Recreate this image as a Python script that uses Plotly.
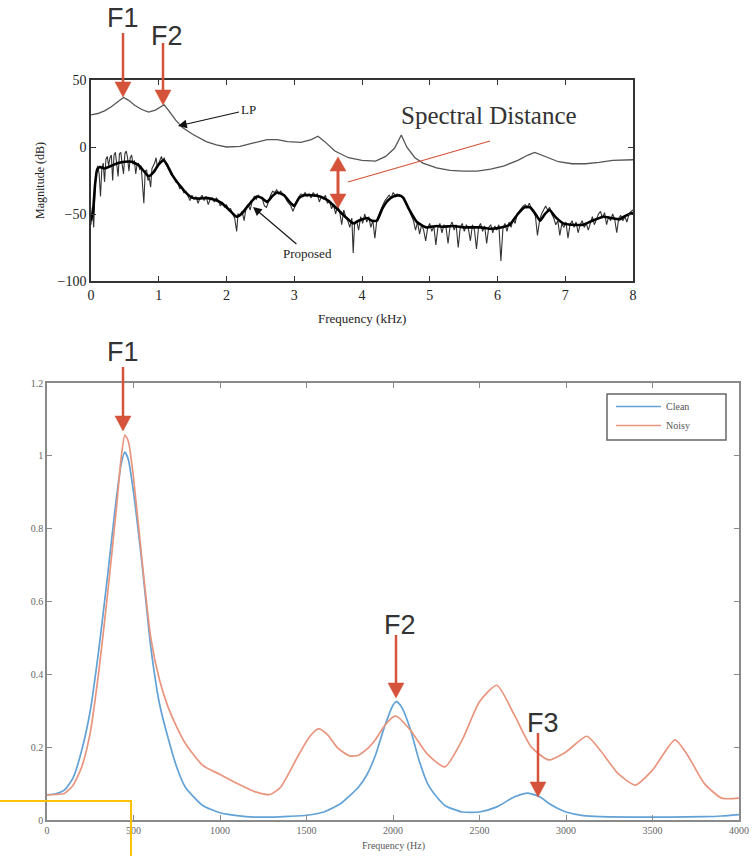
import plotly.graph_objects as go

# ---------------- data: top panel (Frequency in kHz, Magnitude in dB) ----------------
lp_khz = [0.00, 0.10, 0.20, 0.30, 0.40, 0.48, 0.55, 0.65, 0.75, 0.85, 0.95, 1.03, 1.08, 1.15,
          1.25, 1.35, 1.50, 1.70, 1.85, 2.00, 2.20, 2.40, 2.60, 2.75, 2.90, 3.10, 3.25, 3.35,
          3.45, 3.60, 3.80, 4.00, 4.20, 4.35, 4.48, 4.58, 4.66, 4.78, 4.90, 5.10, 5.30, 5.50,
          5.70, 5.90, 6.10, 6.30, 6.45, 6.55, 6.70, 6.90, 7.10, 7.30, 7.50, 7.70, 8.00]
lp_db = [24, 25, 27, 30, 34, 37, 35, 31, 28, 26, 27.5, 30, 31.5, 27,
         20, 14.5, 9.5, 4, 1.5, 0, 0.5, 3, 5.5, 5.5, 4, 3.5, 5.5, 8,
         4, -3, -8, -10, -10.5, -7, -1, 9, 0, -8, -12, -15.5, -17.5, -18,
         -18, -16.5, -14, -10, -6, -4, -7, -11, -12.5, -12.5, -11.5, -10, -9.5]

raw_khz = [0.00, 0.02, 0.04, 0.06, 0.08, 0.10, 0.12, 0.14, 0.16, 0.18, 0.20, 0.22, 0.24, 0.26,
           0.28, 0.30, 0.32, 0.34, 0.36, 0.38, 0.40, 0.42, 0.44, 0.46, 0.48, 0.50, 0.52, 0.54,
           0.56, 0.58, 0.60, 0.62, 0.64, 0.66, 0.68, 0.70, 0.72, 0.74, 0.76, 0.78, 0.80, 0.82,
           0.84, 0.86, 0.88, 0.90, 0.92, 0.94, 0.96, 0.98, 1.00, 1.02, 1.04, 1.06, 1.08, 1.10,
           1.13, 1.16, 1.19, 1.22, 1.25, 1.28, 1.31, 1.34, 1.37, 1.40, 1.43, 1.46, 1.49, 1.52,
           1.55, 1.58, 1.61, 1.64, 1.67, 1.70, 1.73, 1.76, 1.79, 1.82, 1.85, 1.88, 1.91, 1.94,
           1.97, 2.00, 2.03, 2.06, 2.09, 2.12, 2.15, 2.17, 2.20, 2.23, 2.26, 2.29, 2.32, 2.35,
           2.38, 2.41, 2.44, 2.47, 2.50, 2.53, 2.56, 2.59, 2.62, 2.65, 2.68, 2.71, 2.74, 2.77,
           2.80, 2.83, 2.86, 2.89, 2.92, 2.95, 2.98, 3.01, 3.04, 3.07, 3.10, 3.13, 3.16, 3.19,
           3.22, 3.25, 3.28, 3.31, 3.34, 3.37, 3.40, 3.43, 3.46, 3.49, 3.52, 3.55, 3.58, 3.61,
           3.64, 3.67, 3.70, 3.73, 3.76, 3.79, 3.82, 3.85, 3.87, 3.89, 3.92, 3.95, 3.98, 4.01,
           4.04, 4.07, 4.10, 4.13, 4.16, 4.19, 4.22, 4.25, 4.28, 4.31, 4.34, 4.37, 4.40, 4.43,
           4.46, 4.49, 4.52, 4.55, 4.58, 4.61, 4.64, 4.67, 4.70, 4.73, 4.76, 4.79, 4.82, 4.85,
           4.88, 4.91, 4.94, 4.97, 5.00, 5.03, 5.06, 5.09, 5.12, 5.15, 5.18, 5.21, 5.24, 5.27,
           5.30, 5.33, 5.36, 5.39, 5.42, 5.45, 5.48, 5.51, 5.54, 5.57, 5.60, 5.63, 5.66, 5.69,
           5.72, 5.75, 5.78, 5.81, 5.84, 5.87, 5.90, 5.93, 5.96, 5.99, 6.02, 6.05, 6.08, 6.11,
           6.14, 6.17, 6.20, 6.23, 6.26, 6.29, 6.32, 6.35, 6.38, 6.41, 6.44, 6.47, 6.50, 6.53,
           6.56, 6.59, 6.62, 6.65, 6.68, 6.71, 6.74, 6.77, 6.80, 6.83, 6.86, 6.89, 6.92, 6.95,
           6.98, 7.01, 7.04, 7.07, 7.10, 7.13, 7.16, 7.19, 7.22, 7.25, 7.28, 7.31, 7.34, 7.37,
           7.40, 7.43, 7.46, 7.49, 7.52, 7.55, 7.58, 7.61, 7.64, 7.67, 7.70, 7.73, 7.76, 7.79,
           7.82, 7.85, 7.88, 7.91, 7.94, 7.97, 8.00]
raw_db = [-58, -45, -60, -30, -18, -14, -20, -37, -16, -12, -26, -9, -7, -14,
          -8, -6, -25, -6, -4, -12, -22, -5, -4, -13, -20, -5, -3, -8,
          -18, -8, -6, -13, -10, -20, -13, -12, -17, -14, -28, -42, -18, -17,
          -25, -23, -30, -16, -14, -12, -8, -15, -12, -9, -7, -11, -8, -12,
          -15, -18, -21, -22, -26, -27, -31, -30, -34, -33, -37, -40, -36, -39,
          -37, -42, -38, -36, -40, -37, -43, -39, -38, -41, -38, -40, -44, -41,
          -45, -43, -47, -46, -50, -53, -63, -50, -51, -48, -55, -45, -43, -47,
          -40, -37, -39, -36, -38, -39, -44, -45, -41, -36, -33, -34, -32, -35,
          -33, -35, -37, -40, -42, -44, -48, -44, -40, -37, -35, -36, -34, -37,
          -35, -38, -34, -36, -35, -41, -37, -39, -36, -42, -40, -46, -43, -50,
          -44, -48, -58, -47, -52, -55, -60, -53, -79, -58, -55, -62, -52, -57,
          -50, -56, -52, -60, -55, -68, -54, -50, -46, -43, -40, -38, -36, -38,
          -34, -36, -35, -37, -36, -38, -42, -45, -48, -52, -55, -62, -56, -65,
          -58, -62, -70, -60, -57, -63, -59, -73, -60, -57, -64, -58, -60, -72,
          -59, -56, -62, -58, -75, -60, -57, -63, -58, -61, -70, -58, -62, -76,
          -60, -57, -63, -59, -72, -60, -58, -64, -59, -62, -58, -85, -61, -57,
          -63, -56, -60, -54, -57, -50, -48, -46, -44, -43, -45, -42, -46, -48,
          -52, -66, -55, -50, -47, -44, -47, -45, -50, -53, -58, -55, -66, -57,
          -60, -56, -68, -58, -55, -60, -56, -64, -58, -55, -60, -57, -62, -56,
          -52, -58, -54, -50, -48, -53, -49, -58, -52, -55, -50, -54, -64, -53,
          -51, -55, -52, -56, -50, -48, -47]

smooth_khz = [0.00, 0.03, 0.06, 0.09, 0.13, 0.20, 0.30, 0.40, 0.50, 0.60, 0.70, 0.78, 0.85, 0.92,
              1.00, 1.07, 1.12, 1.20, 1.30, 1.40, 1.50, 1.60, 1.70, 1.80, 1.90, 2.00, 2.08, 2.15,
              2.22, 2.30, 2.38, 2.45, 2.52, 2.60, 2.67, 2.75, 2.85, 2.95, 3.00, 3.07, 3.15, 3.25,
              3.38, 3.50, 3.63, 3.75, 3.87, 3.95, 4.07, 4.15, 4.22, 4.30, 4.38, 4.46, 4.55, 4.61,
              4.70, 4.81, 4.95, 5.10, 5.20, 5.35, 5.50, 5.60, 5.75, 5.89, 6.05, 6.18, 6.30, 6.40,
              6.48, 6.56, 6.63, 6.70, 6.77, 6.85, 6.97, 7.10, 7.26, 7.40, 7.56, 7.68, 7.80, 7.90, 8.00]
smooth_db = [-55, -48, -28, -17, -15, -16, -14, -12, -11, -11, -13.5, -18, -22, -19,
             -13, -10, -13, -21, -28, -34, -38, -38.5, -38, -39, -41, -45, -49, -52,
             -50, -45, -40, -37, -38, -41, -37, -34, -36, -42, -44, -38, -36, -36,
             -37, -40, -46, -52, -57, -55, -53, -55, -55, -46, -40, -37, -36, -38,
             -47, -56, -60, -59, -59.5, -59, -60, -60, -60, -61, -60, -58, -50, -45,
             -45, -50, -55, -50, -47, -52, -57, -58, -58, -55, -52, -53, -54, -51, -49]

# ---------------- data: bottom panel (Frequency in Hz, normalised magnitude) ----------------
clean_hz = [0, 50, 100, 150, 200, 250, 300, 350, 400, 430, 450, 470, 500, 550, 600, 650, 700,
            750, 800, 900, 1000, 1100, 1200, 1300, 1400, 1500, 1600, 1700, 1800, 1850, 1900,
            1950, 2000, 2020, 2050, 2100, 2150, 2200, 2250, 2300, 2400, 2500, 2600, 2700, 2780,
            2850, 2900, 2950, 3000, 3100, 3200, 3400, 3600, 3800, 3900, 4000]
clean_val = [0.069, 0.072, 0.082, 0.115, 0.19, 0.30, 0.47, 0.67, 0.88, 0.98, 1.01, 0.99, 0.90,
             0.70, 0.475, 0.32, 0.225, 0.145, 0.09, 0.04, 0.02, 0.012, 0.008, 0.008, 0.01, 0.013,
             0.022, 0.046, 0.09, 0.125, 0.18, 0.255, 0.315, 0.325, 0.31, 0.25, 0.165, 0.10, 0.065,
             0.04, 0.022, 0.022, 0.036, 0.063, 0.074, 0.063, 0.046, 0.032, 0.022, 0.012, 0.009,
             0.008, 0.008, 0.009, 0.011, 0.015]

noisy_hz = [0, 50, 100, 150, 200, 250, 300, 350, 400, 430, 450, 470, 500, 550, 600, 650, 700,
            750, 800, 900, 1000, 1100, 1200, 1290, 1350, 1400, 1450, 1520, 1570, 1620, 1680,
            1750, 1800, 1850, 1900, 1950, 2000, 2020, 2100, 2200, 2300, 2400, 2500, 2600, 2700,
            2800, 2900, 3000, 3120, 3200, 3300, 3400, 3500, 3630, 3700, 3800, 3900, 4000]
noisy_val = [0.069, 0.07, 0.073, 0.095, 0.145, 0.24, 0.41, 0.62, 0.85, 1.0, 1.057, 1.04, 0.94,
             0.71, 0.50, 0.385, 0.31, 0.255, 0.21, 0.15, 0.125, 0.10, 0.078, 0.07, 0.09, 0.13,
             0.175, 0.23, 0.25, 0.235, 0.198, 0.176, 0.178, 0.195, 0.222, 0.258, 0.283, 0.285,
             0.247, 0.18, 0.146, 0.22, 0.325, 0.37, 0.29, 0.20, 0.165, 0.187, 0.23, 0.19, 0.128,
             0.096, 0.137, 0.22, 0.18, 0.10, 0.06, 0.06]

top_xticks = [0, 1, 2, 3, 4, 5, 6, 7, 8]
top_yticks = [-100, -50, 0, 50]
bot_xticks = [0, 500, 1000, 1500, 2000, 2500, 3000, 3500, 4000]
bot_yticks = [0, 0.2, 0.4, 0.6, 0.8, 1, 1.2]
bot_ytick_text = ["0", "0.2", "0.4", "0.6", "0.8", "1", "1.2"]

# ---------------- layout helpers (pixel -> paper) ----------------
W, H = 755, 856


def px(x):
    return x / W


def py(y):
    return 1 - y / H


SERIF = "Liberation Serif, Times New Roman, serif"
SANS = "Liberation Sans, Arial, sans-serif"
RED = "#D4533A"
BLUE = "#62A2D6"
ORANGE = "#E9957E"

fig = go.Figure()

fig.add_trace(go.Scatter(x=lp_khz, y=lp_db, mode="lines", line=dict(color="#555555", width=1.3),
                         xaxis="x", yaxis="y", showlegend=False, name="LP"))
fig.add_trace(go.Scatter(x=raw_khz, y=raw_db, mode="lines", line=dict(color="#333333", width=1.1),
                         xaxis="x", yaxis="y", showlegend=False, name="Proposed (raw)"))
fig.add_trace(go.Scatter(x=smooth_khz, y=smooth_db, mode="lines",
                         line=dict(color="#000000", width=2.6, shape="spline", smoothing=0.4),
                         xaxis="x", yaxis="y", showlegend=False, name="Proposed"))

fig.add_trace(go.Scatter(x=clean_hz, y=clean_val, mode="lines", name="Clean",
                         line=dict(color=BLUE, width=1.7, shape="spline", smoothing=0.6),
                         xaxis="x2", yaxis="y2"))
fig.add_trace(go.Scatter(x=noisy_hz, y=noisy_val, mode="lines", name="Noisy",
                         line=dict(color=ORANGE, width=1.7, shape="spline", smoothing=0.6),
                         xaxis="x2", yaxis="y2"))

top_axis_common = dict(showline=True, linecolor="#333333", linewidth=1.5, mirror="ticks",
                       ticks="inside", ticklen=5, tickcolor="#333333", showgrid=False,
                       zeroline=False, automargin=False,
                       tickfont=dict(family=SERIF, size=14, color="#222222"))
bot_axis_common = dict(showline=True, linecolor="#8a8a8a", linewidth=1.6, mirror="ticks",
                       ticks="inside", ticklen=5, tickcolor="#8a8a8a", showgrid=False,
                       zeroline=False, automargin=False,
                       tickfont=dict(family=SERIF, size=10, color="#666666"))

fig.update_layout(
    width=W, height=H, margin=dict(l=0, r=0, t=0, b=0, autoexpand=False),
    paper_bgcolor="white", plot_bgcolor="white",
    xaxis=dict(domain=[px(91), px(633)], anchor="y", range=[0, 8], tickvals=top_xticks,
               **top_axis_common),
    yaxis=dict(domain=[py(281), py(80)], anchor="x", range=[-100, 50], tickvals=top_yticks,
               **top_axis_common),
    xaxis2=dict(domain=[px(47), px(739)], anchor="y2", range=[0, 4000], tickvals=bot_xticks,
                **bot_axis_common),
    yaxis2=dict(domain=[py(820), py(383)], anchor="x2", range=[0, 1.2], tickvals=bot_yticks,
                ticktext=bot_ytick_text, **bot_axis_common),
    legend=dict(x=px(611), y=py(392), xanchor="left", yanchor="top",
                borderwidth=0, bgcolor="rgba(0,0,0,0)",
                font=dict(family=SERIF, size=10, color="#555555"),
                itemwidth=45, tracegroupgap=0),
    showlegend=True,
)

annotations = []
shapes = []


def label(text, cx, cy, size, family, color, angle=0):
    annotations.append(dict(text=text, x=px(cx), y=py(cy), xref="paper", yref="paper",
                            xanchor="center", yanchor="middle", showarrow=False,
                            textangle=angle, font=dict(family=family, size=size, color=color)))


# axis titles
label("Frequency (kHz)", 362, 318, 13, SERIF, "#222222")
label("Magnitude (dB)", 40, 181, 12, SERIF, "#222222", angle=-90)
label("Frequency (Hz)", 393, 846, 10, SERIF, "#555555")

# big formant labels
for txt, cx, cy in [("F1", 123, 18), ("F2", 167, 36), ("F1", 123, 352), ("F2", 400, 625),
                    ("F3", 543, 723)]:
    label(txt, cx, cy, 27, SANS, "#333333")

# Spectral Distance label
label("Spectral Distance", 489, 115, 25, SERIF, "#333333")

# LP and Proposed labels with black arrows
annotations.append(dict(text="LP", x=px(178), y=py(126), xref="paper", yref="paper",
                        ax=70, ay=-16, showarrow=True, arrowhead=2, arrowsize=1.6,
                        arrowwidth=1.1, arrowcolor="#111111",
                        font=dict(family=SERIF, size=13, color="#222222")))
annotations.append(dict(text="Proposed", x=px(253), y=py(207), xref="paper", yref="paper",
                        ax=54, ay=46, showarrow=True, arrowhead=2, arrowsize=1.6,
                        arrowwidth=1.1, arrowcolor="#111111",
                        font=dict(family=SERIF, size=13, color="#222222")))


def red_down_arrow(x, y_start, y_tip, head=15, half=8):
    shapes.append(dict(type="line", xref="paper", yref="paper", x0=px(x), x1=px(x),
                       y0=py(y_start), y1=py(y_tip - head + 1),
                       line=dict(color=RED, width=2.5)))
    shapes.append(dict(type="path", xref="paper", yref="paper",
                       path=f"M {px(x - half)} {py(y_tip - head)} L {px(x + half)} {py(y_tip - head)} "
                            f"L {px(x)} {py(y_tip)} Z",
                       fillcolor=RED, line=dict(color=RED, width=0.5)))


red_down_arrow(123, 33, 97)
red_down_arrow(163, 43, 105)
red_down_arrow(123, 367, 431)
red_down_arrow(396, 635, 698)
red_down_arrow(538, 733, 797)

# double-headed spectral distance arrow
dx, dtop, dbot, hh, hw = 338, 157, 208, 14, 8
shapes.append(dict(type="line", xref="paper", yref="paper", x0=px(dx), x1=px(dx),
                   y0=py(dtop + hh - 1), y1=py(dbot - hh + 1), line=dict(color=RED, width=3)))
shapes.append(dict(type="path", xref="paper", yref="paper",
                   path=f"M {px(dx - hw)} {py(dtop + hh)} L {px(dx + hw)} {py(dtop + hh)} "
                        f"L {px(dx)} {py(dtop)} Z", fillcolor=RED, line=dict(color=RED, width=0.5)))
shapes.append(dict(type="path", xref="paper", yref="paper",
                   path=f"M {px(dx - hw)} {py(dbot - hh)} L {px(dx + hw)} {py(dbot - hh)} "
                        f"L {px(dx)} {py(dbot)} Z", fillcolor=RED, line=dict(color=RED, width=0.5)))
# pointer line from label to arrow
shapes.append(dict(type="line", xref="paper", yref="paper", x0=px(348), y0=py(182),
                   x1=px(490), y1=py(141), line=dict(color=RED, width=1.3)))

# legend frame (bottom panel)
shapes.append(dict(type="rect", xref="paper", yref="paper", x0=px(607), x1=px(726),
                   y0=py(440), y1=py(394), line=dict(color="#666666", width=1.5),
                   fillcolor="white", layer="below"))

# yellow highlight box at bottom-left
shapes.append(dict(type="rect", xref="paper", yref="paper", x0=px(-10), x1=px(131),
                   y0=py(801), y1=py(880), line=dict(color="#FFC000", width=2),
                   fillcolor="rgba(0,0,0,0)"))

fig.update_layout(annotations=annotations, shapes=shapes)

fig.write_html("out.html")
